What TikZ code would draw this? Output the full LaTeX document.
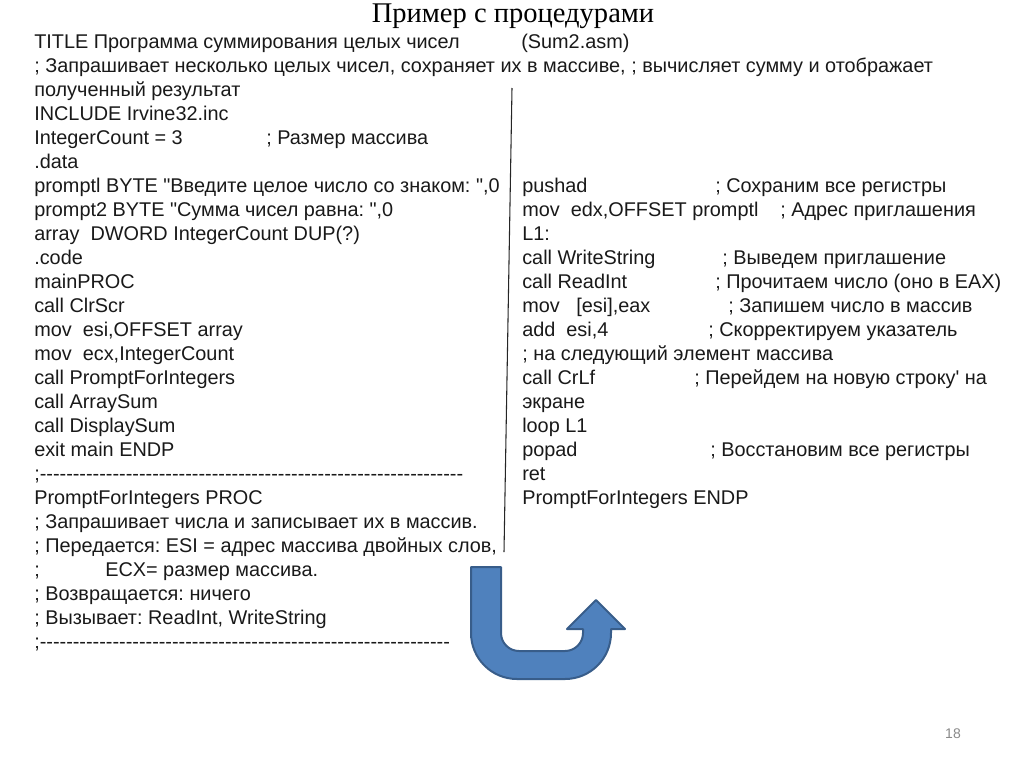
\documentclass[tikz,border=0pt]{standalone}
\usepackage{fontspec}
\setmainfont{Liberation Serif}
\newfontfamily\codefont{Liberation Sans}
\frenchspacing
\definecolor{arrowblue}{RGB}{79,129,189}
\definecolor{arrowedge}{RGB}{56,93,138}
\definecolor{pagegray}{RGB}{137,137,137}
\tikzset{
  codeline/.style={anchor=base west, inner sep=0pt, font=\codefont\fontsize{14.9}{18}\selectfont, text=black!90},
  slidetitle/.style={anchor=base, inner sep=0pt, font=\fontsize{21.4}{26}\selectfont},
  pagenum/.style={anchor=base, inner sep=0pt, text=pagegray, font=\codefont\fontsize{10.5}{12}\selectfont},
}
\begin{document}
\begin{tikzpicture}[x=0.75pt, y=-0.75pt]
\useasboundingbox (0,0) rectangle (1024,768);
% Title
\node[slidetitle] (title) at (513,22) {Пример с процедурами};
% Left column
\foreach \yy/\lbl in {
  48/{TITLE Программа суммирования целых чисел},
  72/{; Запрашивает несколько целых чисел, сохраняет их в массиве, ; вычисляет сумму и отображает},
  96/{полученный результат},
  120/{INCLUDE Irvine32.inc},
  144/{IntegerCount = 3},
  168/{.data},
  192/{promptl BYTE "Введите целое число со знаком: ",0},
  216/{prompt2 BYTE "Сумма чисел равна: ",0},
  240/{array\ \ DWORD IntegerCount DUP(?)},
  264/{.code},
  288/{mainPROC},
  312/{call ClrScr},
  336/{mov\ \ esi,OFFSET array},
  360/{mov\ \ ecx,IntegerCount},
  384/{call PromptForIntegers},
  408/{call ArraySum},
  432/{call DisplaySum},
  456/{exit main ENDP},
  480/{;----------------------------------------------------------------},
  504/{PromptForIntegers PROC},
  528/{; Запрашивает числа и записывает их в массив.},
  552/{; Передается: ESI = адрес массива двойных слов,},
  576/{;},
  600/{; Возвращается: ничего},
  624/{; Вызывает: ReadInt, WriteString},
  648/{;--------------------------------------------------------------}} {
  \node[codeline] (left\yy) at (34,\yy) {\lbl};
}
% Right column
\foreach \yy/\lbl in {
  192/{pushad},
  216/{mov\ \ edx,OFFSET promptl},
  240/{L1:},
  264/{call WriteString},
  288/{call ReadInt},
  312/{mov\ \ \ [esi],eax},
  336/{add\ \ esi,4},
  360/{; на следующий элемент массива},
  384/{call CrLf},
  408/{экране},
  432/{loop L1},
  456/{popad},
  480/{ret},
  504/{PromptForIntegers ENDP}} {
  \node[codeline] (right\yy) at (522,\yy) {\lbl};
}
% Comments set apart on their lines
\foreach \xx/\yy/\lbl in {
  521/48/{(Sum2.asm)},
  266/144/{; Размер массива},
  105/576/{ECX= размер массива.},
  715/192/{; Сохраним все регистры},
  780/216/{; Адрес приглашения},
  722/264/{; Выведем приглашение},
  715/288/{; Прочитаем число (оно в EAX)},
  728/312/{; Запишем число в массив},
  708/336/{; Скорректируем указатель},
  694/384/{; Перейдем на новую строку' на},
  710/456/{; Восстановим все регистры}} {
  \node[codeline] (note\yy) at (\xx,\yy) {\lbl};
}
% Divider
\coordinate (divtop) at (512,88);
\coordinate (divbot) at (504,552);
\draw[black!85, line width=0.8pt] (divtop) -- (divbot);
% U-turn arrow
\draw[arrowedge, fill=arrowblue, line width=1.5pt, line join=round]
  (471,567) -- (501,567) -- (501,633)
  arc[start angle=180, end angle=90, radius=18]
  -- (565,651)
  arc[start angle=90, end angle=0, radius=18]
  -- (583,629) -- (567,629) -- (596,600) -- (625,629) -- (611,629) -- (611,633)
  arc[start angle=0, end angle=90, radius=46]
  -- (517,679)
  arc[start angle=90, end angle=180, radius=46]
  -- cycle;
% Page number
\node[pagenum] (pageno) at (953,738) {18};
\end{tikzpicture}
\end{document}
